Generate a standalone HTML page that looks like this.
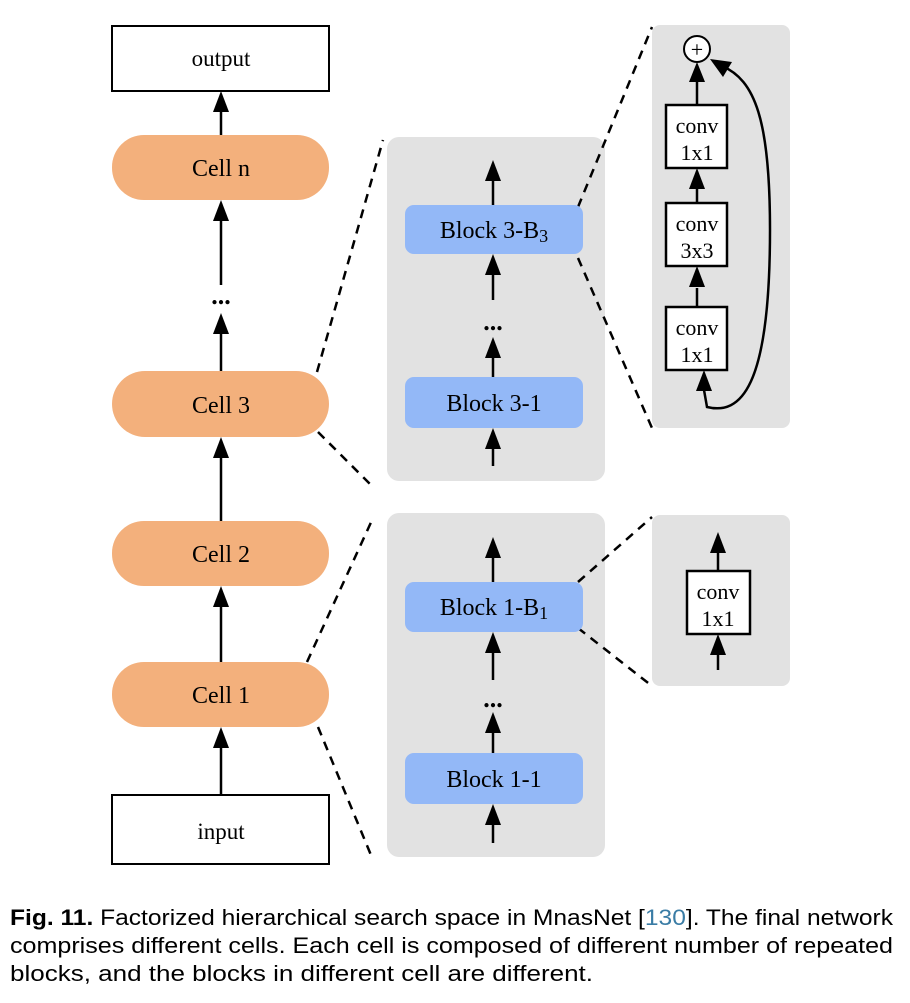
<!DOCTYPE html>
<html><head><style>
body{margin:0;background:#fff;width:910px;height:998px;overflow:hidden}
</style></head><body>
<svg width="910" height="998" xmlns="http://www.w3.org/2000/svg" font-family="Liberation Serif, serif">
<rect x="387" y="137" width="218" height="344" rx="12" fill="#e2e2e2"/>
<rect x="387" y="513" width="218" height="344" rx="12" fill="#e2e2e2"/>
<rect x="652" y="25" width="138" height="403" rx="8" fill="#e2e2e2"/>
<rect x="652" y="515" width="138" height="171" rx="8" fill="#e2e2e2"/>
<g stroke="#000" stroke-width="2.5" stroke-dasharray="9,7" fill="none">
<line x1="317" y1="372" x2="383" y2="140"/>
<line x1="318" y1="432" x2="373" y2="487"/>
<line x1="307" y1="662" x2="373" y2="518"/>
<line x1="318" y1="727" x2="373" y2="860"/>
<line x1="578" y1="207" x2="652" y2="27"/>
<line x1="578" y1="258" x2="652" y2="428"/>
<line x1="578" y1="582" x2="652" y2="517"/>
<line x1="578" y1="628" x2="652" y2="686"/>
</g>
<rect x="112" y="26" width="217" height="65" fill="#fff" stroke="#000" stroke-width="2"/>
<text x="221" y="66" font-size="23" text-anchor="middle">output</text>
<g fill="#f3b07c">
<rect x="112" y="135" width="217" height="65" rx="32"/>
<rect x="112" y="371" width="217" height="66" rx="33"/>
<rect x="112" y="521" width="217" height="65" rx="32"/>
<rect x="112" y="662" width="217" height="65" rx="32"/>
</g>
<g font-size="24" text-anchor="middle">
<text x="221" y="176">Cell n</text>
<text x="221" y="413">Cell 3</text>
<text x="221" y="562">Cell 2</text>
<text x="221" y="703">Cell 1</text>
</g>
<rect x="112" y="795" width="217" height="69" fill="#fff" stroke="#000" stroke-width="2"/>
<text x="221" y="839" font-size="23" text-anchor="middle">input</text>
<text x="221" y="304" font-size="26" text-anchor="middle" font-weight="bold">...</text>
<text x="493" y="330" font-size="26" text-anchor="middle" font-weight="bold">...</text>
<text x="493" y="707" font-size="26" text-anchor="middle" font-weight="bold">...</text>
<g stroke="#000" stroke-width="2.5">
<line x1="221" y1="135" x2="221" y2="108"/>
<line x1="221" y1="285" x2="221" y2="218"/>
<line x1="221" y1="371" x2="221" y2="332"/>
<line x1="221" y1="521" x2="221" y2="455"/>
<line x1="221" y1="662" x2="221" y2="604"/>
<line x1="221" y1="795" x2="221" y2="745"/>
<line x1="493" y1="205" x2="493" y2="178"/>
<line x1="493" y1="300" x2="493" y2="272"/>
<line x1="493" y1="377" x2="493" y2="355"/>
<line x1="493" y1="466" x2="493" y2="446"/>
<line x1="493" y1="582" x2="493" y2="555"/>
<line x1="493" y1="680" x2="493" y2="650"/>
<line x1="493" y1="753" x2="493" y2="730"/>
<line x1="493" y1="843" x2="493" y2="822"/>
<line x1="697" y1="105" x2="697" y2="78"/>
<line x1="697" y1="203" x2="697" y2="186"/>
<line x1="697" y1="307" x2="697" y2="288"/>
<line x1="718" y1="571" x2="718" y2="550"/>
<line x1="718" y1="670" x2="718" y2="652"/>
</g>
<g fill="#000">
<polygon points="221,91 213,112 229,112"/>
<polygon points="221,200 213,221 229,221"/>
<polygon points="221,313 213,334 229,334"/>
<polygon points="221,437 213,458 229,458"/>
<polygon points="221,586 213,607 229,607"/>
<polygon points="221,727 213,748 229,748"/>
<polygon points="493,160 485,181 501,181"/>
<polygon points="493,254 485,275 501,275"/>
<polygon points="493,337 485,358 501,358"/>
<polygon points="493,428 485,449 501,449"/>
<polygon points="493,537 485,558 501,558"/>
<polygon points="493,632 485,653 501,653"/>
<polygon points="493,712 485,733 501,733"/>
<polygon points="493,804 485,825 501,825"/>
<polygon points="697,62 689,82 705,82"/>
<polygon points="697,168 689,189 705,189"/>
<polygon points="697,266 689,287 705,287"/>
<polygon points="704,370 696,391 712,391"/>
<polygon points="718,532 710,553 726,553"/>
<polygon points="718,634 710,655 726,655"/>
</g>
<g fill="#93b8f7">
<rect x="405" y="205" width="178" height="49" rx="9"/>
<rect x="405" y="377" width="178" height="51" rx="9"/>
<rect x="405" y="582" width="178" height="50" rx="9"/>
<rect x="405" y="753" width="178" height="51" rx="9"/>
</g>
<g font-size="24" text-anchor="middle">
<text x="494" y="238">Block 3-B<tspan font-size="18" dy="4">3</tspan></text>
<text x="494" y="411">Block 3-1</text>
<text x="494" y="615">Block 1-B<tspan font-size="18" dy="4">1</tspan></text>
<text x="494" y="787">Block 1-1</text>
</g>
<circle cx="697" cy="49" r="13" fill="#fff" stroke="#000" stroke-width="2"/>
<text x="697" y="57" font-size="22" text-anchor="middle">+</text>
<g fill="#fff" stroke="#000" stroke-width="2.5">
<rect x="666" y="105" width="61" height="63"/>
<rect x="666" y="203" width="61" height="63"/>
<rect x="666" y="307" width="61" height="63"/>
<rect x="687" y="571" width="63" height="63"/>
</g>
<g font-size="22" text-anchor="middle">
<text x="697" y="133">conv</text><text x="697" y="160">1x1</text>
<text x="697" y="231">conv</text><text x="697" y="258">3x3</text>
<text x="697" y="335">conv</text><text x="697" y="362">1x1</text>
<text x="718" y="599">conv</text><text x="718" y="626">1x1</text>
</g>
<path d="M704,390 L707,407 C740,415 770,390 770,230 C770,120 755,80 722,66" fill="none" stroke="#000" stroke-width="2.5"/>
<polygon points="710,59 732,62 723,77" fill="#000"/>
<g font-family="Liberation Sans, sans-serif" font-size="22">
<text x="10" y="925" textLength="883" lengthAdjust="spacingAndGlyphs"><tspan font-weight="bold">Fig. 11.</tspan>  Factorized hierarchical search space in MnasNet [<tspan fill="#3a7ca5">130</tspan>]. The final network</text>
<text x="10" y="953" textLength="883" lengthAdjust="spacingAndGlyphs">comprises different cells. Each cell is composed of different number of repeated</text>
<text x="10" y="981" textLength="583" lengthAdjust="spacingAndGlyphs">blocks, and the blocks in different cell are different.</text>
</g>
</svg>
</body></html>
